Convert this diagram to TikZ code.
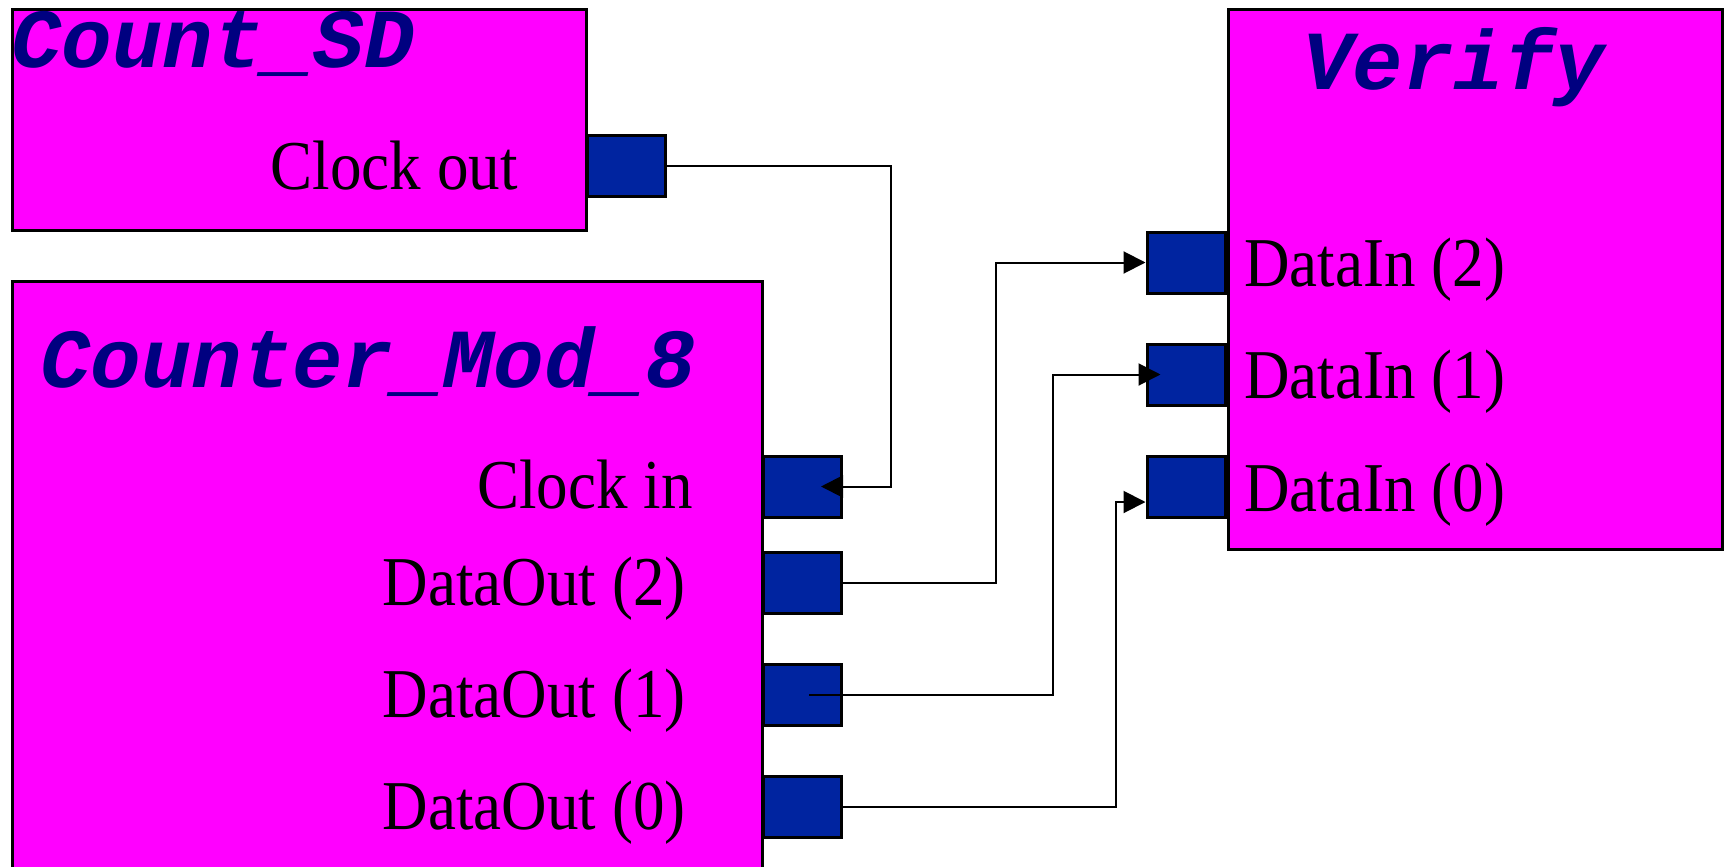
\documentclass[tikz,border=0pt]{standalone}
\usepackage{fontspec}
\setmainfont{Liberation Serif}
\newfontfamily\lblfont[FakeStretch=0.9]{Liberation Serif}
\newfontfamily\ttlfont{Liberation Mono}
\usetikzlibrary{arrows.meta}

\definecolor{blockfill}{RGB}{255,0,255}
\definecolor{portfill}{RGB}{0,36,160}
\definecolor{titlecol}{RGB}{0,0,128}

\tikzset{
  block/.style={draw=black, line width=1.3pt, fill=blockfill, inner sep=0pt,
                anchor=north west},
  port/.style={draw=black, line width=1.5pt, fill=portfill, inner sep=0pt,
               minimum width=39pt, minimum height=30.5pt},
  wire/.style={draw=black, line width=1pt},
  feed/.style={wire, -{Triangle[length=11pt,width=11pt]}},
  lbl/.style={inner sep=0pt, font=\lblfont\fontsize{35pt}{35pt}\selectfont},
  ttl/.style={inner sep=0pt, text=titlecol,
              font=\ttlfont\bfseries\itshape\fontsize{42pt}{42pt}\selectfont},
}

\begin{document}
\begin{tikzpicture}[x=0.5pt, y=-0.5pt]
  \useasboundingbox (0,0) rectangle (1725,867);
  \clip (0,0) rectangle (1725,867);

  % blocks
  \node[block, minimum width=287pt, minimum height=110.5pt] (countsd) at (11,8) {};
  \node[block, minimum width=375pt, minimum height=310pt] (counter) at (11,280) {};
  \node[block, minimum width=247pt, minimum height=270pt] (verify) at (1227,8) {};

  % block titles
  \node[ttl, anchor=base west] (tcountsd) at (11,68) {Count\_SD};
  \node[ttl, anchor=base west] (tcounter) at (40,387) {Counter\_Mod\_8};
  \node[ttl, anchor=base west] (tverify) at (1302,90) {Verify};

  % ports
  \node[port] (clkout) at (626,166) {};
  \node[port] (clkin)  at (802,486.5) {};
  \node[port] (dout2)  at (802,582.5) {};
  \node[port] (dout1)  at (802,694.5) {};
  \node[port] (dout0)  at (802,806.5) {};
  \node[port] (din2)   at (1186,262.5) {};
  \node[port] (din1)   at (1186,374.5) {};
  \node[port] (din0)   at (1186,486.5) {};

  % port labels
  \node[lbl, anchor=base east] (lclkout) at (518,189) {Clock out};
  \node[lbl, anchor=base east] (lclkin)  at (693,508) {Clock in};
  \node[lbl, anchor=base east] (ldout2)  at (686,605) {DataOut (2)};
  \node[lbl, anchor=base east] (ldout1)  at (686,717) {DataOut (1)};
  \node[lbl, anchor=base east] (ldout0)  at (686,829) {DataOut (0)};
  \node[lbl, anchor=base west] (ldin2)   at (1244,286) {DataIn (2)};
  \node[lbl, anchor=base west] (ldin1)   at (1244,398) {DataIn (1)};
  \node[lbl, anchor=base west] (ldin0)   at (1244,511) {DataIn (0)};

  % connections
  \draw[feed] (clkout.east) -- ++(224,0) |- ([xshift=9.5pt]clkin.center);
  \draw[feed] (dout2.east) -- ++(153,0) |- (din2.west);
  \draw[feed] ([xshift=3.5pt]dout1.center) -- (1053,694.5) |- ([xshift=7.5pt]din1.west);
  \draw[feed] (dout0.east) -- ++(273,0) |- ([yshift=-7.75pt]din0.west);
\end{tikzpicture}
\end{document}
